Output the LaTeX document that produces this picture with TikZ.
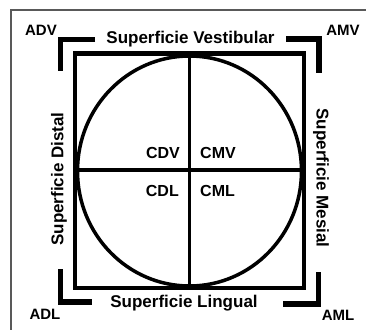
\documentclass[tikz,border=0pt]{standalone}
\usepackage{fontspec}
\setmainfont{Liberation Sans}
\usetikzlibrary{positioning}

\begin{document}
\begin{tikzpicture}[x=1pt,y=-1pt,
  face/.style={font=\bfseries\fontsize{17}{17}\selectfont,inner sep=0pt},
  zone/.style={font=\bfseries\fontsize{16}{16}\selectfont,inner sep=0pt},
  angle/.style={font=\bfseries\fontsize{15}{15}\selectfont,inner sep=0pt},
  brk/.style={line width=5.5pt,line join=miter}]
\useasboundingbox (0,0) rectangle (366,329);
\draw[black!65,line width=1.6pt] (11,10) rectangle (372,335);
% square, circle and cross
\coordinate (tl) at (75,53.5);\coordinate (br) at (304,288);
\draw[line width=4.5pt] (tl) rectangle (br);
\draw[line width=3.5pt] (189.5,171) ellipse [x radius=112, y radius=115];
\coordinate (top) at (189.5,53.5);\coordinate (bot) at (189.5,288);
\coordinate (lft) at (75,170);\coordinate (rgt) at (304,170);
\draw[line width=3.5pt] (top)--(bot) (lft)--(rgt);
% corner brackets
\draw[brk] (95,39.5)--(60.5,39.5)--(60.5,71);
\draw[brk] (286,39)--(319,39)--(319,73);
\draw[brk] (60.5,269)--(60.5,302)--(92,302);
\draw[brk] (318.5,272)--(318.5,304)--(283,304);
\foreach \p/\lab in {{(41,30)}/ADV,{(343,30)}/AMV,{(45,314)}/ADL,{(338,315)}/AML}{\node[angle] (\lab) at \p {\lab};}
% surfaces
\node[face] (vest) at (190.5,39) {Superficie Vestibular};
\node[face] (ling) at (184,303) {Superficie Lingual};
\node[face,rotate=90] (dist) at (59,179) {Superficie Distal};
\node[face,rotate=-90] (mes) at (321,178) {Superficie Mesial};
% quadrants
\node[zone,anchor=east] (cdv) at (180,152.5) {CDV};
\node[zone,anchor=west] (cmv) at (200,152.5) {CMV};
\node[zone,anchor=east] (cdl) at (179,191) {CDL};
\node[zone,anchor=west] (cml) at (200,191) {CML};
\end{tikzpicture}
\end{document}
